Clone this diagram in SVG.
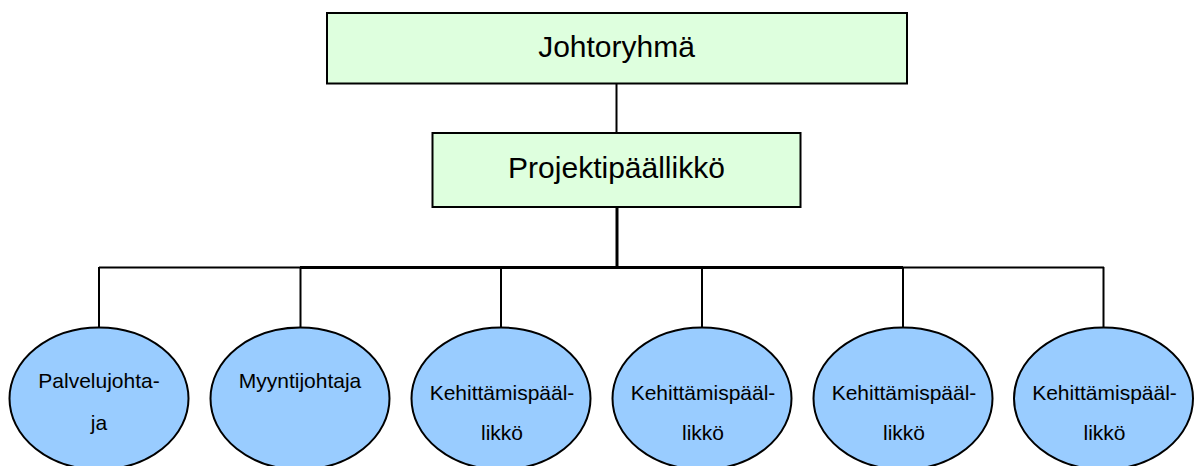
<svg xmlns="http://www.w3.org/2000/svg" width="1199" height="466" viewBox="0 0 1199 466">
  <style>
    .box { fill: #DEFFDE; stroke: #000; stroke-width: 2; }
    .role { fill: #99CCFF; stroke: #000; stroke-width: 2; }
    .link { stroke: #000; stroke-width: 2; fill: none; }
    .trunk { stroke: #000; stroke-width: 3; fill: none; }
    .big { font-family: "Liberation Sans", Arial, sans-serif; font-size: 30px; fill: #000; text-anchor: middle; }
    .small { font-family: "Liberation Sans", Arial, sans-serif; font-size: 21px; fill: #000; text-anchor: middle; }
  </style>
  <rect width="1199" height="466" fill="#fff"/>

  <!-- connectors -->
  <g id="connectors">
    <line class="link" x1="616.5" y1="83" x2="616.5" y2="133"/>
    <line class="trunk" x1="617" y1="207" x2="617" y2="267.5"/>
    <line class="link" x1="99" y1="267.5" x2="1104" y2="267.5"/>
    <line class="trunk" x1="300" y1="267.5" x2="903" y2="267.5"/>
    <line class="link" x1="99" y1="267" x2="99" y2="327.5"/>
    <line class="link" x1="300.5" y1="267" x2="300.5" y2="327.5"/>
    <line class="link" x1="501" y1="267" x2="501" y2="327.5"/>
    <line class="link" x1="702" y1="267" x2="702" y2="327.5"/>
    <line class="link" x1="903" y1="267" x2="903" y2="327.5"/>
    <line class="link" x1="1103.5" y1="267" x2="1103.5" y2="327.5"/>
  </g>

  <g id="johtoryhma">
    <rect class="box" x="327" y="13" width="580" height="70.5"/>
    <text class="big" x="616.5" y="57">Johtoryhmä</text>
  </g>

  <g id="projektipaallikko">
    <rect class="box" x="432.5" y="133" width="368" height="74"/>
    <text class="big" x="616.5" y="178">Projektipäällikkö</text>
  </g>

  <g id="palvelujohtaja">
    <ellipse class="role" cx="99" cy="398.5" rx="89.5" ry="71"/>
    <text class="small" x="99" y="388">Palvelujohta-</text>
    <text class="small" x="99" y="430">ja</text>
  </g>

  <g id="myyntijohtaja">
    <ellipse class="role" cx="300" cy="398.5" rx="89.5" ry="71"/>
    <text class="small" x="300" y="388">Myyntijohtaja</text>
  </g>

  <g id="kehittamispaallikko-1">
    <ellipse class="role" cx="501" cy="398.5" rx="89.5" ry="71"/>
    <text class="small" x="502" y="400">Kehittämispääl-</text>
    <text class="small" x="502" y="440">likkö</text>
  </g>

  <g id="kehittamispaallikko-2">
    <ellipse class="role" cx="702" cy="398.5" rx="89.5" ry="71"/>
    <text class="small" x="703" y="400">Kehittämispääl-</text>
    <text class="small" x="703" y="440">likkö</text>
  </g>

  <g id="kehittamispaallikko-3">
    <ellipse class="role" cx="903" cy="398.5" rx="89.5" ry="71"/>
    <text class="small" x="904" y="400">Kehittämispääl-</text>
    <text class="small" x="904" y="440">likkö</text>
  </g>

  <g id="kehittamispaallikko-4">
    <ellipse class="role" cx="1103.5" cy="398.5" rx="89.5" ry="71"/>
    <text class="small" x="1104.5" y="400">Kehittämispääl-</text>
    <text class="small" x="1104.5" y="440">likkö</text>
  </g>
</svg>
